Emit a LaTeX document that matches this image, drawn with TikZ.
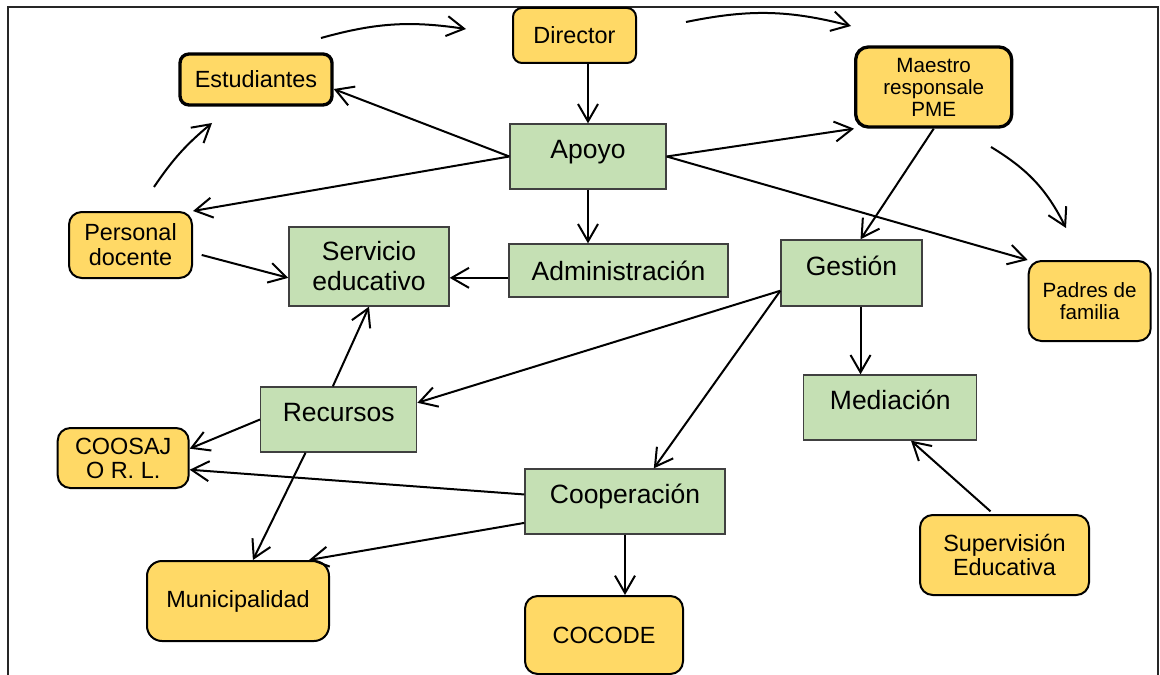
\documentclass[tikz,border=0pt]{standalone}
\usepackage{fontspec}
\setmainfont{Liberation Sans}
\usetikzlibrary{arrows.meta}
\definecolor{verdefill}{HTML}{C5E0B4}
\definecolor{amarillofill}{HTML}{FFD966}
\tikzset{
	verde/.style={draw=black!75, line width=0.4mm, fill=verdefill, inner sep=0pt, align=center, font=\fontsize{22.6}{25.6}\selectfont},
	amarillo/.style={draw=black, line width=0.6mm, fill=amarillofill, rounded corners=3.8mm, inner sep=0pt, align=center, font=\fontsize{20}{21.3}\selectfont},
	grueso/.style={line width=1mm},
	chico/.style={font=\fontsize{17.6}{18.8}\selectfont},
	tam/.style 2 args={minimum width=#1*0.3mm, minimum height=#2*0.3mm},
	arriba/.style={text height=16pt, text depth=12pt},
	flecha/.style={-{Straight Barb[length=5.2mm,width=6mm]}, line width=0.6mm}
}

\begin{document}
\begin{tikzpicture}[x=0.3mm,y=-0.3mm]
			%%%%% START %%%%%
			\useasboundingbox (0,0) rectangle (1160,675);
			\draw[line width=0.45mm, black!85] (8,7) rectangle (1158,700);
			
			\node[amarillo, tam={123}{55}, rounded corners=2.7mm] (director) at (574.5,35.5) {Director};
			\node[amarillo, grueso, tam={152}{51}, rounded corners=2.7mm] (estudiantes) at (256,79.5) {Estudiantes};
			\node[amarillo, grueso, chico, tam={156}{80}] (maestro) at (933.7,87) {Maestro\\responsale\\PME};
			\node[amarillo, tam={123}{66}] (docente) at (130.5,245) {Personal\\docente};
			\node[amarillo, chico, tam={122}{80}] (padres) at (1089.7,301) {Padres de\\familia};
			\node[amarillo, tam={131}{60}, font=\fontsize{20}{20.5}\selectfont] (coosaj) at (123.2,458) {COOSAJ\\O R. L.};
			\node[amarillo, tam={169}{80}, font=\fontsize{20}{20.5}\selectfont] (supervision) at (1004.5,555) {Supervisión\\Educativa};
			\node[amarillo, tam={182}{80}, rounded corners=4.5mm] (municipalidad) at (238,601) {Municipalidad};
			\node[amarillo, tam={158}{78}] (cocode) at (604,635) {COCODE};
			
			\node[verde, arriba, tam={156}{65}] (apoyo) at (588,156.5) {Apoyo};
			\node[verde, tam={160}{79}] (servicio) at (369,266.5) {Servicio\\educativo};
			\node[verde, tam={219}{53}] (admin) at (618.5,270.5) {Administración};
			\node[verde, arriba, tam={141}{66}] (gestion) at (851.5,273) {Gestión};
			\node[verde, arriba, tam={156}{65}] (recursos) at (338.7,419.5) {Recursos};
			\node[verde, arriba, tam={173}{65}] (mediacion) at (890.3,407.5) {Mediación};
			\node[verde, arriba, tam={200}{65}] (cooperacion) at (625,501.5) {Cooperación};
			
			\draw[flecha] (apoyo.north |- director.south) -- (apoyo.north);
			\draw[flecha] (apoyo.south) -- (apoyo.south |- admin.north);
			\draw[flecha] (apoyo.west) -- (estudiantes.-7);
			\draw[flecha] (apoyo.west) -- (docente.north east);
			\draw[flecha] (apoyo.east) -- (maestro.south west);
			\draw[flecha] (apoyo.east) -- (padres.north west);
			\draw[flecha] (maestro.south) -- (gestion.75);
			\draw[flecha, shorten <=2.7mm] (docente.-7) -- (servicio.188);
			\draw[flecha] (admin.west |- servicio.-8) -- (servicio.-8);
			\draw[flecha] (gestion.-75) -- (gestion.-75 |- mediacion.north);
			\draw[flecha] (gestion.194) -- (recursos.12);
			\draw[flecha] (gestion.194) -- (cooperacion.49);
			\draw[flecha] (recursos.100) -- (servicio.south);
			\draw[flecha] (recursos.west) -- (coosaj.8);
			\draw[flecha] (recursos.-135) -- (municipalidad.70);
			\draw[flecha] (cooperacion.176) -- (coosaj.-10);
			\draw[flecha] (cooperacion.192) -- (municipalidad.30);
			\draw[flecha] (cooperacion.south) -- (cooperacion.south |- cocode.north);
			\draw[flecha, shorten <=1.2mm] (supervision.105) -- (mediacion.-58);
			
			\coordinate (c1a) at (321,38);
			\coordinate (c1b) at (466,29);
			\draw[flecha] (c1a) to[bend left=12] (c1b);
			\coordinate (c2a) at (686,22);
			\coordinate (c2b) at (851,26);
			\draw[flecha] (c2a) to[bend left=13] (c2b);
			\coordinate (c3a) at (991,147);
			\coordinate (c3b) at (1066,228);
			\draw[flecha] (c3a) to[bend left=16] (c3b);
			\coordinate (c4a) at (154,187);
			\coordinate (c4b) at (212,123);
			\draw[flecha] (c4a) to[bend left=8] (c4b);
			
			%%%%% END %%%%%
\end{tikzpicture}
\end{document}
